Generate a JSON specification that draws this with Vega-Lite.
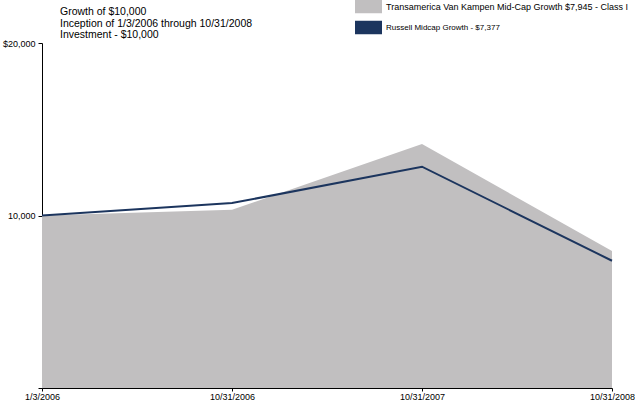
{
  "$schema": "https://vega.github.io/schema/vega-lite/v6.json",
  "width": 570,
  "height": 345,
  "autosize": "none",
  "padding": {"left": 42, "top": 43, "right": 23, "bottom": 13},
  "background": "white",
  "config": {
    "font": "Liberation Sans",
    "view": {"stroke": null}
  },
  "title": {
    "text": ["Growth of $10,000", "Inception of 1/3/2006 through 10/31/2008", "Investment - $10,000"],
    "anchor": "start",
    "frame": "group",
    "dx": 18,
    "dy": 48,
    "offset": 0,
    "fontSize": 10.5,
    "fontWeight": "normal",
    "lineHeight": 11.7,
    "color": "black"
  },
  "data": {
    "values": [
      {"date": "1/3/2006", "series": "Transamerica Van Kampen Mid-Cap Growth $7,945 - Class I", "value": 10000},
      {"date": "10/31/2006", "series": "Transamerica Van Kampen Mid-Cap Growth $7,945 - Class I", "value": 10330},
      {"date": "10/31/2007", "series": "Transamerica Van Kampen Mid-Cap Growth $7,945 - Class I", "value": 14140},
      {"date": "10/31/2008", "series": "Transamerica Van Kampen Mid-Cap Growth $7,945 - Class I", "value": 7945},
      {"date": "1/3/2006", "series": "Russell Midcap Growth  - $7,377", "value": 10000},
      {"date": "10/31/2006", "series": "Russell Midcap Growth  - $7,377", "value": 10720},
      {"date": "10/31/2007", "series": "Russell Midcap Growth  - $7,377", "value": 12830},
      {"date": "10/31/2008", "series": "Russell Midcap Growth  - $7,377", "value": 7377}
    ]
  },
  "encoding": {
    "x": {
      "field": "date",
      "type": "ordinal",
      "sort": null,
      "scale": {"type": "point", "padding": 0},
      "axis": {
        "title": null,
        "labelAngle": 0,
        "labelFontSize": 9,
        "labelColor": "black",
        "domainColor": "black",
        "tickColor": "black",
        "tickSize": 3,
        "labelPadding": 1,
        "grid": false
      }
    },
    "y": {
      "field": "value",
      "type": "quantitative",
      "stack": null,
      "scale": {"domain": [0, 20000], "nice": false},
      "axis": {
        "title": null,
        "values": [0, 10000, 20000],
        "labelExpr": "datum.value == 20000 ? '$20,000' : datum.value == 10000 ? '10,000' : ''",
        "labelFontSize": 9,
        "labelColor": "black",
        "domainColor": "black",
        "tickColor": "black",
        "tickSize": 4,
        "labelPadding": 3,
        "grid": false
      }
    },
    "color": {
      "field": "series",
      "type": "nominal",
      "sort": null,
      "scale": {
        "domain": ["Transamerica Van Kampen Mid-Cap Growth $7,945 - Class I", "Russell Midcap Growth  - $7,377"],
        "range": ["#c1bfc0", "#1c355e"]
      },
      "legend": {
        "title": null,
        "orient": "none",
        "legendX": 313,
        "legendY": -50,
        "padding": 0,
        "symbolType": "M-1,-0.5H1V0.5H-1Z",
        "symbolSize": 729,
        "symbolStrokeWidth": 0,
        "rowPadding": -5,
        "labelOffset": 4,
        "labelColor": "black",
        "labelLimit": 400,
        "labelFontSize": 9,
        "encode": {
          "symbols": {"update": {"fill": {"scale": "color", "field": "value"}, "stroke": {"value": "transparent"}, "opacity": {"value": 1}}},
          "labels": {"update": {"fontSize": {"signal": "datum.index == 0 ? 9 : 8"}}}
        }
      }
    }
  },
  "layer": [
    {
      "transform": [{"filter": "datum.series == 'Transamerica Van Kampen Mid-Cap Growth $7,945 - Class I'"}],
      "mark": {"type": "area", "opacity": 1}
    },
    {
      "transform": [{"filter": "datum.series == 'Russell Midcap Growth  - $7,377'"}],
      "mark": {"type": "line", "strokeWidth": 2}
    }
  ]
}
